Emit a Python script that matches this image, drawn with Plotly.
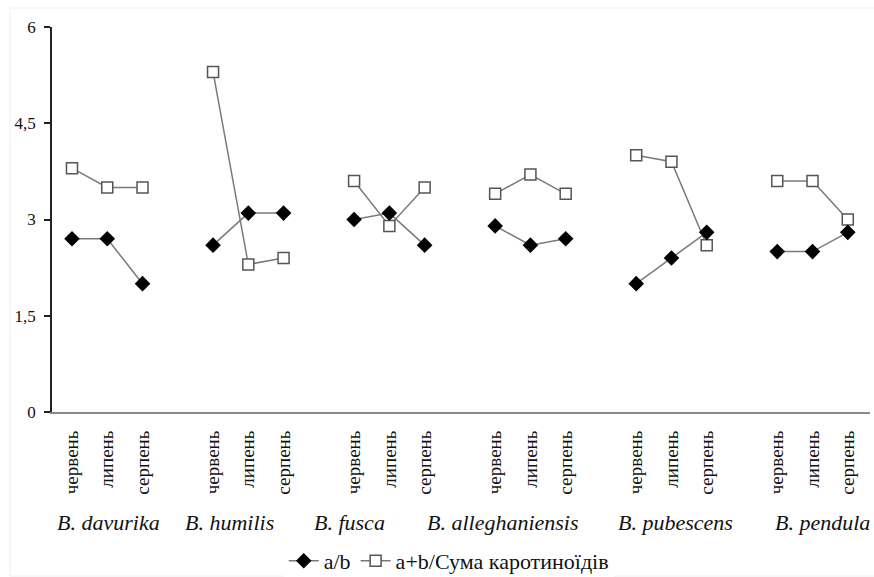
import plotly.graph_objects as go

species = ["B. davurika", "B. humilis", "B. fusca", "B. alleghaniensis", "B. pubescens", "B. pendula"]
months = ["червень", "липень", "серпень"]
ratio_ab = [2.7, 2.7, 2.0,  2.6, 3.1, 3.1,  3.0, 3.1, 2.6,  2.9, 2.6, 2.7,  2.0, 2.4, 2.8,  2.5, 2.5, 2.8]
ratio_car = [3.8, 3.5, 3.5,  5.3, 2.3, 2.4,  3.6, 2.9, 3.5,  3.4, 3.7, 3.4,  4.0, 3.9, 2.6,  3.6, 3.6, 3.0]
y_ticks = [0, 1.5, 3, 4.5, 6]
y_tick_labels = ["0", "1,5", "3", "4,5", "6"]
series_names = ["a/b", "a+b/Сума каротиноїдів"]

SERIF = "Liberation Serif, Times New Roman, DejaVu Serif, serif"

def build(vals):
    xs, ys = [], []
    for g in range(len(species)):
        for m in range(len(months)):
            xs.append(g * 4 + m)
            ys.append(vals[g * 3 + m])
        xs.append(None)
        ys.append(None)
    return xs, ys

tickvals, ticktext = [], []
for g in range(len(species)):
    for m in range(len(months)):
        tickvals.append(g * 4 + m)
        ticktext.append(months[m])

W, H = 874, 577
ML, MR, MT, MB = 52, 4, 27, 165
pw = W - ML - MR
ph = H - MT - MB

fig = go.Figure()
xs2, ys2 = build(ratio_car)
fig.add_trace(go.Scatter(
    x=xs2, y=ys2, mode="lines+markers", name=series_names[1],
    line=dict(color="#7a7a7a", width=1.5),
    marker=dict(symbol="square", size=11, color="white", line=dict(color="#555555", width=1.5)),
    legendrank=2, connectgaps=False,
))
xs1, ys1 = build(ratio_ab)
fig.add_trace(go.Scatter(
    x=xs1, y=ys1, mode="lines+markers", name=series_names[0],
    line=dict(color="#7a7a7a", width=1.5),
    marker=dict(symbol="diamond", size=12, color="black", line=dict(color="black", width=0)),
    legendrank=1, connectgaps=False,
))

label_px = [55, 183, 312, 425, 616, 773]
for name, px in zip(species, label_px):
    fig.add_annotation(
        text="<i>" + name + "</i>", xref="paper", yref="paper",
        x=(px - ML) / pw, y=-(522 - (MT + ph)) / ph,
        xanchor="left", yanchor="middle", showarrow=False,
        font=dict(family=SERIF, size=22, color="#111111"),
    )

fig.add_shape(type="rect", xref="paper", yref="paper",
              x0=(10 - ML) / pw, x1=(W + 5 - ML) / pw,
              y0=-(576 - (MT + ph)) / ph, y1=(MT + ph - 8) / ph,
              line=dict(color="#eeeeee", width=1), layer="below")

fig.update_layout(
    width=W, height=H,
    margin=dict(l=ML, r=MR, t=MT, b=MB, autoexpand=False),
    paper_bgcolor="white", plot_bgcolor="white",
    font=dict(family=SERIF, color="#111111"),
    showlegend=True,
    legend=dict(orientation="h", x=0.485, xanchor="center",
                y=-(561 - (MT + ph)) / ph, yanchor="middle",
                font=dict(family=SERIF, size=22, color="#111111"),
                itemwidth=30, tracegroupgap=0),
    xaxis=dict(range=[-0.567, 22.63], tickmode="array", tickvals=tickvals, ticktext=ticktext,
               tickangle=-90, showgrid=False, zeroline=False, automargin=False,
               showline=True, linecolor="#8a8a8a", linewidth=2,
               ticks="outside", ticklen=9, tickcolor="rgba(0,0,0,0)",
               tickfont=dict(family=SERIF, size=19, color="#111111")),
    yaxis=dict(range=[0, 6], tickmode="array", tickvals=y_ticks, ticktext=y_tick_labels,
               automargin=False, ticklabelstandoff=5,
               showgrid=False, zeroline=False, showline=True, linecolor="#222222", linewidth=1.5,
               ticks="outside", ticklen=6, tickcolor="#222222", tickwidth=1.5,
               tickfont=dict(family=SERIF, size=17, color="#111111")),
)

fig.write_html("out.html", config={"displayModeBar": False},
               post_script="document.body.style.margin='0px';")
